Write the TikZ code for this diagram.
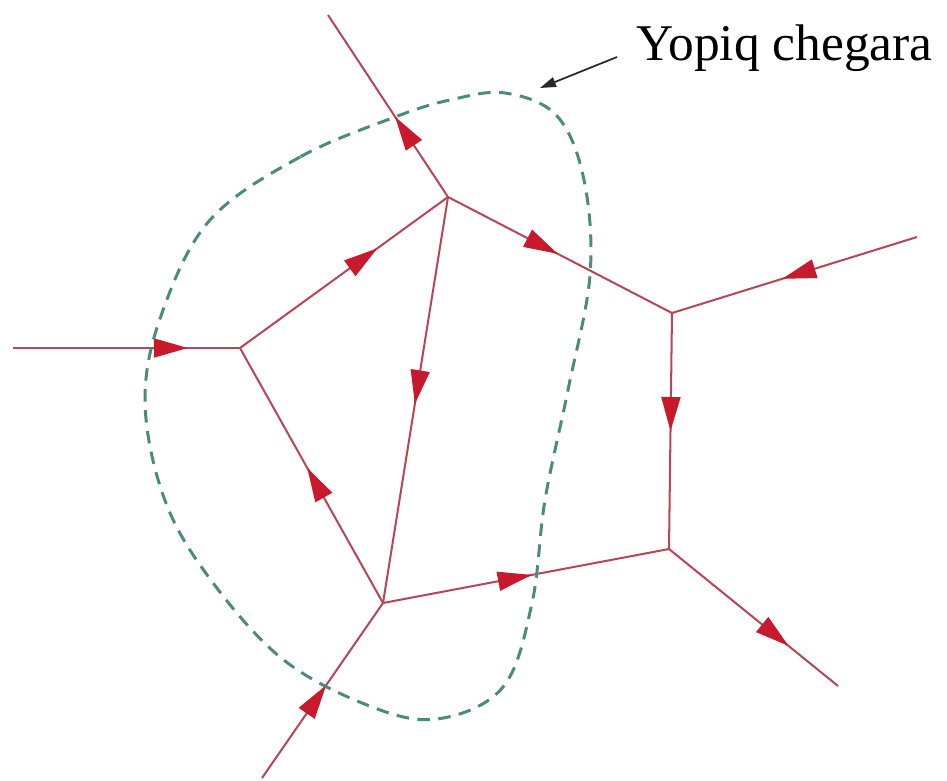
\documentclass[tikz,border=0pt]{standalone}
\usepackage{fontspec}
\setmainfont{Liberation Serif}
\usetikzlibrary{arrows.meta,decorations.markings}

\definecolor{edgered}{RGB}{185,70,85}
\definecolor{tipred}{RGB}{200,25,45}
\definecolor{loopgreen}{RGB}{75,138,125}
\definecolor{pointgray}{RGB}{40,40,40}

\tikzset{
  branch/.style={draw=edgered, line width=1.15pt},
  flow/.style={postaction={decorate, decoration={markings,
      mark=at position #1 with {\arrow{Triangle[length=0.68cm,width=0.38cm,color=tipred]}}}}},
  boundary/.style={draw=loopgreen, line width=1.7pt, dash pattern=on 0.25cm off 0.17cm},
  pointer/.style={draw=pointgray, line width=1pt, -{Triangle[length=0.32cm,width=0.2cm]}},
}

\begin{document}
\begin{tikzpicture}[x=0.02cm, y=-0.02cm]
\useasboundingbox (0,0) rectangle (947,781);

% vertices
\coordinate (a) at (448,197);
\coordinate (b) at (240,348);
\coordinate (c) at (383,603);
\coordinate (d) at (672,313);
\coordinate (e) at (669,549);
% free ends
\coordinate (ta) at (328,15);
\coordinate (tb) at (13,348);
\coordinate (tc) at (262,778);
\coordinate (td) at (917,237);
\coordinate (te) at (838,686);
%
\draw[branch, flow=.44] (a) -- (ta);
\draw[branch, flow=.77] (tb) -- (b);
\draw[branch, flow=.53] (tc) -- (c);
\draw[branch, flow=.55] (td) -- (d);
\draw[branch, flow=.71] (e) -- (te);
\draw[branch, flow=.66] (b) -- (a);
\draw[branch, flow=.49] (a) -- (d);
\draw[branch, flow=.51] (a) -- (c);
\draw[branch, flow=.53] (c) -- (b);
\draw[branch, flow=.52] (c) -- (e);
\draw[branch, flow=.50] (d) -- (e);
%
\draw[boundary] plot[smooth cycle, tension=0.6] coordinates {
  (395,117) (300,157) (210,220) (162,313) (145,400) (163,495) (205,572)
  (280,657) (367,705) (437,719) (503,687) (532,603) (545,500) (568,390)
  (590,275) (584,180) (557,116) (505,93) (450,100)};
%
\node[anchor=base west, inner sep=0pt, font=\fontsize{29.3}{31}\selectfont] (lbl) at (636,60) {Yopiq chegara};
\coordinate (ps) at (617,57);
\coordinate (pe) at (540,88);
\draw[pointer] (ps) -- (pe);

\end{tikzpicture}
\end{document}
